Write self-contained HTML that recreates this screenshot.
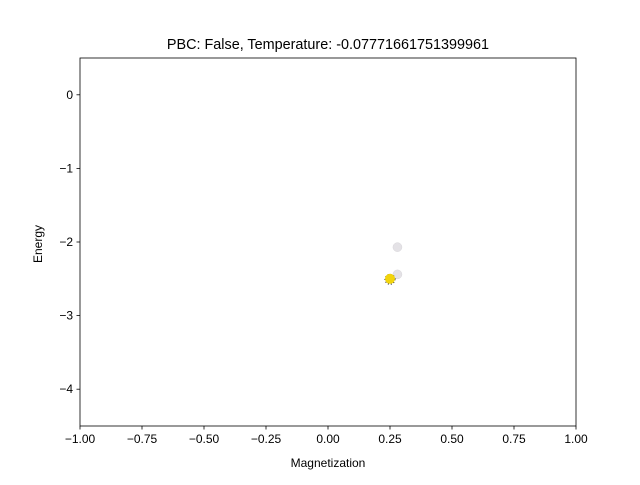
<!DOCTYPE html>
<html><head><meta charset="utf-8"><style>
body{margin:0;background:#fff;font-family:"Liberation Sans","DejaVu Sans",sans-serif}
</style></head><body>
<svg id="chart" width="640" height="480" xmlns="http://www.w3.org/2000/svg"></svg>
<script>
const xTicks=[-1,-0.75,-0.5,-0.25,0,0.25,0.5,0.75,1];
const xTickLabels=["\u22121.00","\u22120.75","\u22120.50","\u22120.25","0.00","0.25","0.50","0.75","1.00"];
const yTicks=[0,-1,-2,-3,-4];
const yTickLabels=["0","\u22121","\u22122","\u22123","\u22124"];
const grayX=[0.28,0.28];
const grayY=[-2.07,-2.44];
const goldX=[0.25];
const goldY=[-2.5];
const L=80,R=576,T=58,B=426;
const sx=v=>L+(v+1)/2*(R-L);
const sy=v=>T+(0.5-v)/5*(B-T);
const svg=document.getElementById('chart');
const NS='http://www.w3.org/2000/svg';
function mk(t,a,txt){const e=document.createElementNS(NS,t);for(const k in a)e.setAttribute(k,a[k]);if(txt!==undefined)e.textContent=txt;svg.appendChild(e);return e;}
let e=mk('rect',{x:L,y:T,width:R-L,height:B-T,fill:'#fff',stroke:'#000','stroke-width':0.8});


xTicks.forEach((v,i)=>{
 let t=mk('line',{x1:sx(v),x2:sx(v),y1:B,y2:B+3.5,stroke:'#000','stroke-width':0.8});
 
 
 let l=mk('text',{x:sx(v),y:B+17,'font-size':12,'text-anchor':'middle'},xTickLabels[i]);
 
 
});
yTicks.forEach((v,i)=>{
 let t=mk('line',{x1:L-3.5,x2:L,y1:sy(v),y2:sy(v),stroke:'#000','stroke-width':0.8});
 
 
 let l=mk('text',{x:L-7,y:sy(v)+4,'font-size':12,'text-anchor':'end'},yTickLabels[i]);
 
 
});
grayX.forEach((v,i)=>{
 let c=mk('circle',{cx:sx(v),cy:sy(grayY[i]),r:4.5,fill:'#e4e2e6',stroke:'#d8d6da','stroke-width':0.5});
 
 
});
goldX.forEach((v,i)=>{
 let d=mk('circle',{cx:sx(v),cy:sy(goldY[i])+0.5,r:5,fill:'none',stroke:'#222','stroke-width':1,'stroke-dasharray':'1 2'});
 
 
 let c=mk('circle',{cx:sx(v),cy:sy(goldY[i]),r:5,fill:'#f2d40c'});
 
 
});
e=mk('text',{x:328,y:49,'font-size':14.4,'text-anchor':'middle'},'PBC: False, Temperature: -0.07771661751399961');


e=mk('text',{x:328,y:467,'font-size':12,'text-anchor':'middle'},'Magnetization');


e=mk('text',{x:42,y:244,'font-size':12,'text-anchor':'middle',transform:'rotate(-90 42 244)'},'Energy');


</script>
</body></html>
